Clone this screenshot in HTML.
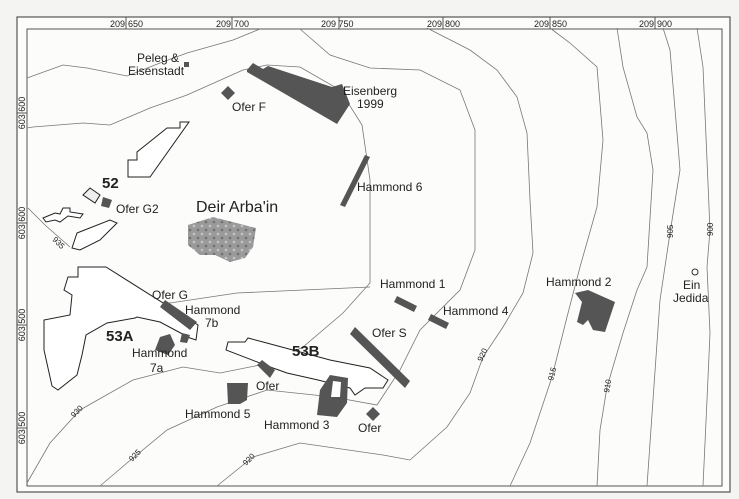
<!DOCTYPE html>
<html><head><meta charset="utf-8"><style>
html,body{margin:0;padding:0;background:#f4f4f2;}
svg{display:block;}
text{font-family:"Liberation Sans",Arial,sans-serif;fill:#222;}
</style></head><body>
<svg width="739" height="499" viewBox="0 0 739 499" xmlns="http://www.w3.org/2000/svg">
<defs>
<pattern id="dots" width="8" height="8" patternUnits="userSpaceOnUse">
<rect width="8" height="8" fill="#9a9a9a"/>
<circle cx="2" cy="2" r="1.3" fill="#c4c4c4"/>
<circle cx="6" cy="6" r="1.3" fill="#707070"/>
</pattern>
</defs>
<rect x="17" y="17" width="713" height="475" fill="#fcfcfb" stroke="#555" stroke-width="1.2"/>
<rect x="27" y="29" width="695" height="457" fill="none" stroke="#555" stroke-width="1"/>
<!-- ticks -->
<g stroke="#555" stroke-width="1">
<line x1="126" y1="17" x2="126" y2="29"/><line x1="232" y1="17" x2="232" y2="29"/><line x1="339" y1="17" x2="339" y2="29"/>
<line x1="443" y1="17" x2="443" y2="29"/><line x1="550" y1="17" x2="550" y2="29"/><line x1="655" y1="17" x2="655" y2="29"/>
<line x1="17" y1="113" x2="27" y2="113"/><line x1="17" y1="223" x2="27" y2="223"/><line x1="17" y1="325" x2="27" y2="325"/><line x1="17" y1="428" x2="27" y2="428"/>
</g>
<g font-size="9">
<text x="110" y="27">209</text><text x="128" y="27">650</text>
<text x="216" y="27">209</text><text x="234" y="27">700</text>
<text x="321" y="27">209 750</text>
<text x="427" y="27">209</text><text x="445" y="27">800</text>
<text x="534" y="27">209</text><text x="552" y="27">850</text>
<text x="639" y="27">209</text><text x="657" y="27">900</text>
<text transform="translate(25,113) rotate(-90)" text-anchor="middle">603 600</text>
<text transform="translate(25,223) rotate(-90)" text-anchor="middle">603 600</text>
<text transform="translate(25,325) rotate(-90)" text-anchor="middle">603 500</text>
<text transform="translate(25,428) rotate(-90)" text-anchor="middle">603 500</text>
</g>
<!-- contours -->
<g fill="none" stroke="#777" stroke-width="0.8">
<polyline points="27,78 63,65 87,68 127,76 160,63 187,53 233,40 260,29"/>
<polyline points="27,128 33,127 83,123 110,125 150,108 187,95 243,70 267,65 300,67 340,90 362,125 370,180 370,283 343,313 303,347 270,363 220,373 183,367 133,380 80,410 50,443 27,483"/>
<polyline points="80,300 170,303 237,293 370,287"/>
<polyline points="28,208 45,225 70,247"/>
<polyline points="100,486 127,463 167,430 217,407 267,390 333,397 377,405 400,370 420,330 460,290 475,250 475,130 460,90 420,70 370,68 330,55 300,29"/>
<polyline points="217,486 253,457 300,443 383,455 410,460 447,427 470,393 483,357 503,327 523,293 533,253 530,200 527,133 517,97 497,70 470,50 427,28"/>
<polyline points="550,28 570,43 597,67 603,140 597,207 580,267 567,317 552,377 530,443 510,486"/>
<polyline points="617,28 623,67 637,117 647,133 653,170 647,267 637,290 623,333 607,387 600,430 597,486"/>
<polyline points="663,28 670,50 677,133 680,170 670,233 660,300 653,400 647,486"/>
<polyline points="697,28 703,67 710,230 707,267 710,333 707,400 703,486"/>
</g>
<g font-size="8" fill="#333">
<text transform="translate(52,240) rotate(45)">935</text>
<text transform="translate(74,418) rotate(-45)">930</text>
<text transform="translate(132,462) rotate(-45)">925</text>
<text transform="translate(246,466) rotate(-45)">920</text>
<text transform="translate(482,362) rotate(-65)">920</text>
<text transform="translate(553,381) rotate(-75)">915</text>
<text transform="translate(609,393) rotate(-80)">910</text>
<text transform="translate(673,238) rotate(-90)">905</text>
<text transform="translate(713,236) rotate(-90)">900</text>
</g>
<!-- outlines -->
<g fill="#fff" stroke="#222" stroke-width="1">
<polygon points="128,160 137,160 137,152 167,128 180,128 180,122 189,122 150,177 128,177"/>
<polygon points="83,195 90,188 100,195 95,203" fill="#eee"/>
<polygon points="43,218 55,213 60,214 63,208 70,208 70,212 83,214 80,218 68,216 60,222 55,220 46,222"/>
<polygon points="77,233 110,220 117,223 100,240 80,250 72,248"/>
<polygon points="78,267 106,267 198,325 196,340 190,338 160,322 137,317 135,318 107,323 86,335 82,355 77,375 58,390 52,386 44,350 44,320 70,315 72,295 64,290 68,277 78,277"/>
<polygon points="228,342 245,342 248,338 263,342 330,360 370,368 388,380 383,388 365,388 355,395 350,388 318,380 287,373 273,368 226,350"/>
</g>
<!-- features -->
<g fill="#555">
<rect x="184" y="62" width="5" height="5"/>
<polygon points="228,86 235,93 228,100 221,93"/>
<polygon points="247,70 253,63 263,69 268,66 332,87 342,84 350,104 337,124 247,72"/>
<polygon points="103,197 112,200 109,208 101,206"/>
<polygon points="365,155 370,157 345,207 340,205"/>
<polygon points="160,307 165,300 197,322 190,330"/>
<polygon points="182,333 190,335 187,343 180,342"/>
<polygon points="160,337 170,334 175,345 168,355 155,350"/>
<polygon points="257,365 262,360 275,370 270,378"/>
<polygon points="227,383 248,383 247,400 240,404 228,404"/>
<polygon points="330,375 348,378 347,403 337,417 317,415 320,390"/>
<polygon points="333,381 341,382 340,397 331,397" fill="#fff"/>
<polygon points="373,407 380,414 373,421 366,414"/>
<polygon points="355,327 410,381 405,388 350,334"/>
<polygon points="397,296 417,306 414,312 394,302"/>
<polygon points="431,314 449,323 446,329 428,320"/>
<polygon points="575,293 588,290 615,302 605,332 593,330 588,320 583,325 577,322 582,302"/>
</g>
<polygon points="188,225 213,217 256,228 253,247 245,258 230,262 215,255 200,255 188,245" fill="url(#dots)"/>
<circle cx="695" cy="272" r="3" fill="none" stroke="#333"/>
<!-- labels -->
<g font-size="12">
<text x="137" y="62">Peleg &amp;</text>
<text x="128" y="75">Eisenstadt</text>
<text x="232" y="111">Ofer F</text>
<text x="343" y="95">Eisenberg</text>
<text x="357" y="108">1999</text>
<text x="116" y="213">Ofer G2</text>
<text x="357" y="191">Hammond 6</text>
<text x="380" y="288">Hammond 1</text>
<text x="443" y="315">Hammond 4</text>
<text x="372" y="337">Ofer S</text>
<text x="546" y="286">Hammond 2</text>
<text x="683" y="289">Ein</text>
<text x="673" y="302">Jedida</text>
<text x="152" y="299">Ofer G</text>
<text x="185" y="314">Hammond</text>
<text x="205" y="327">7b</text>
<text x="132" y="357">Hammond</text>
<text x="150" y="372">7a</text>
<text x="256" y="390">Ofer</text>
<text x="185" y="418">Hammond 5</text>
<text x="264" y="429">Hammond 3</text>
<text x="358" y="432">Ofer</text>
</g>
<g font-size="15" font-weight="bold">
<text x="102" y="188">52</text>
<text x="106" y="341">53A</text>
<text x="292" y="356">53B</text>
</g>
<text x="196" y="212" font-size="16">Deir Arba'in</text>
</svg>
</body></html>
